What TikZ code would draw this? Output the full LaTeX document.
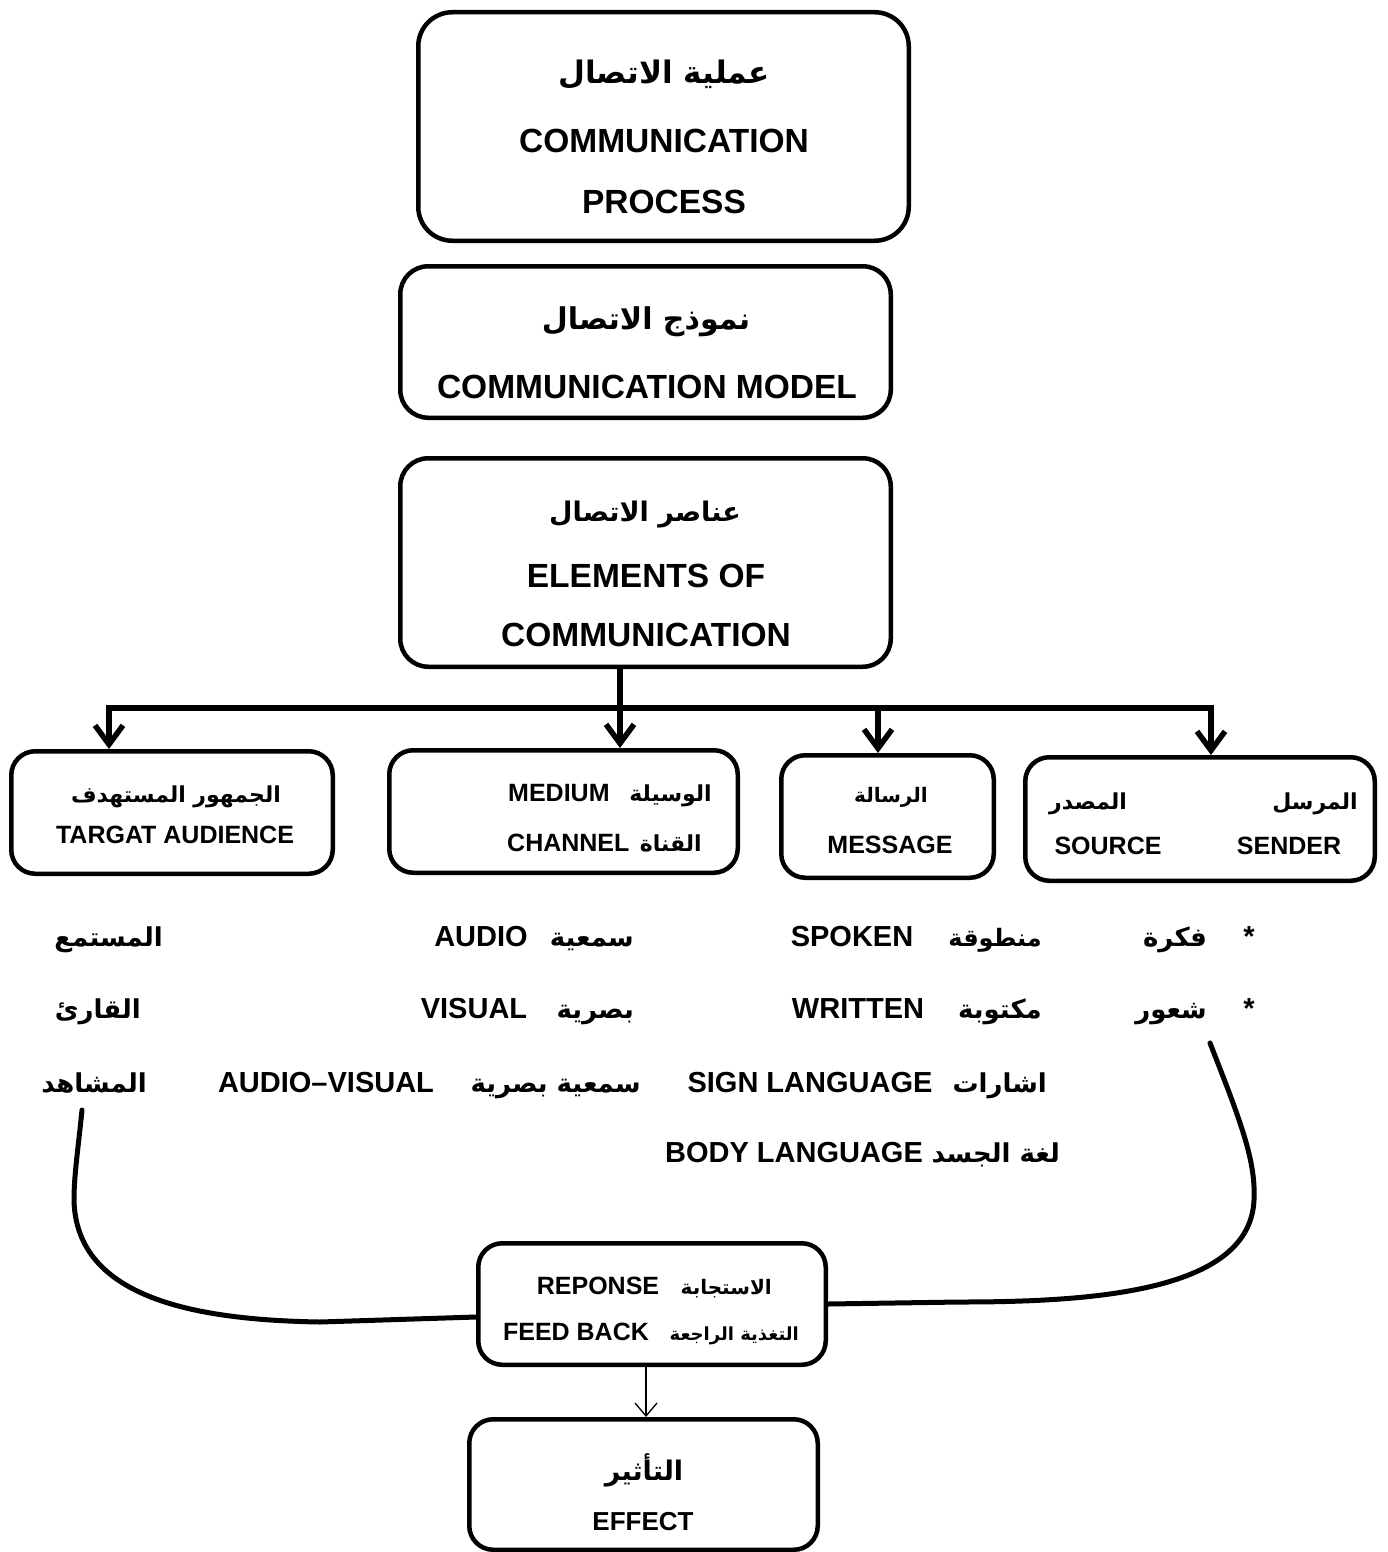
\documentclass[tikz,border=0pt]{standalone}
\usepackage{fontspec}
\setmainfont{Liberation Sans}
\newfontfamily\arabicfont[Script=Arabic]{DejaVu Sans}
\TeXXeTstate=1
\usetikzlibrary{arrows.meta}
\newcommand\artxt[1]{{\arabicfont\beginR #1\endR}}
\begin{document}
\begin{tikzpicture}[x=1pt,y=-1pt,
  box/.style={draw, line width=4.5pt, inner sep=0pt, outer sep=2.25pt},
  ta/.style={inner sep=0pt, font=\fontsize{33.5}{40}\selectfont\bfseries},
  tb/.style={inner sep=0pt, font=\fontsize{25}{30}\selectfont\bfseries},
  tc/.style={inner sep=0pt, anchor=base, font=\fontsize{29}{34}\selectfont\bfseries},
  aa/.style={inner sep=0pt, font=\fontsize{31}{36}\selectfont\bfseries},
  ab/.style={inner sep=0pt, font=\fontsize{22}{28}\selectfont\bfseries},
  af/.style={inner sep=0pt, font=\fontsize{20}{26}\selectfont\bfseries},
  ac/.style={inner sep=0pt, anchor=base east, font=\fontsize{26}{32}\selectfont\bfseries},
  thick line/.style={line width=5.5pt},
  conn/.style={line width=5pt, line cap=round},
  bigtip/.style={-{Straight Barb[length=19pt,width=28pt]}},
  thintip/.style={line width=1.3pt, -{Straight Barb[length=13pt,width=22pt]}}
]
\path[use as bounding box, fill=white] (0,0) rectangle (1387,1552);

% boxes
\node[box, rounded corners=34pt, minimum width=490.5pt, minimum height=228.5pt] (B1) at (663.5,126.5) {};
\node[box, rounded corners=28pt, minimum width=490.5pt, minimum height=151.5pt] (B2) at (645.5,342) {};
\node[box, rounded corners=28pt, minimum width=490.5pt, minimum height=208.5pt] (B3) at (645.5,562.5) {};
\node[box, rounded corners=24pt, minimum width=321.5pt, minimum height=122.5pt] (T) at (172,812.5) {};
\node[box, rounded corners=24pt, minimum width=348.5pt, minimum height=122.5pt] (M) at (563.5,811.5) {};
\node[box, rounded corners=24pt, minimum width=212.5pt, minimum height=122.5pt] (G) at (887.5,816.5) {};
\node[box, rounded corners=24pt, minimum width=349.5pt, minimum height=123.5pt] (S) at (1200,819) {};
\node[box, rounded corners=24pt, minimum width=347.5pt, minimum height=121.5pt] (FB) at (652,1304) {};
\node[box, rounded corners=24pt, minimum width=348.5pt, minimum height=130.5pt] (E) at (643.5,1484.5) {};

% box texts
\node[aa] (b1a) at (664,75) {\artxt{عملية الاتصال}};
\node[ta] (b1b) at (664,141) {COMMUNICATION};
\node[ta] (b1c) at (664,202) {PROCESS};

\node[aa, font=\fontsize{30}{36}\selectfont\bfseries] (b2a) at (646,322) {\artxt{نموذج الاتصال}};
\node[ta] (b2b) at (647,387) {COMMUNICATION MODEL};

\node[aa, font=\fontsize{27}{32}\selectfont\bfseries] (b3a) at (645,515) {\artxt{عناصر الاتصال}};
\node[ta] (b3b) at (646,576) {ELEMENTS OF};
\node[ta] (b3c) at (646,635) {COMMUNICATION};

\node[ab] (ta1) at (176,797) {\artxt{الجمهور المستهدف}};
\node[tb] (ta2) at (175,835) {TARGAT AUDIENCE};

\node[tb, anchor=base west] (me1) at (508,801) {MEDIUM};
\node[ab, anchor=base east] (me2) at (712,801) {\artxt{الوسيلة}};
\node[tb, anchor=base west] (me3) at (507,851) {CHANNEL};
\node[ab, anchor=base east] (me4) at (702,851) {\artxt{القناة}};

\node[af] (ms1) at (891,797) {\artxt{الرسالة}};
\node[tb] (ms2) at (890,845) {MESSAGE};

\node[ab] (sd1) at (1088,804) {\artxt{المصدر}};
\node[ab] (sd2) at (1315,804) {\artxt{المرسل}};
\node[tb] (sd3) at (1108,846) {SOURCE};
\node[tb] (sd4) at (1289,846) {SENDER};

% lower rows
\node[ac] (r1a) at (163,946) {\artxt{المستمع}};
\node[tc] (r1b) at (481,946) {AUDIO};
\node[ac] (r1c) at (634,946) {\artxt{سمعية}};
\node[tc] (r1d) at (852,946) {SPOKEN};
\node[ac, font=\fontsize{24}{30}\selectfont\bfseries] (r1e) at (1042,946) {\artxt{منطوقة}};
\node[ac] (r1f) at (1207,946) {\artxt{فكرة}};
\node[tc] (r1g) at (1249,946) {*};

\node[ac] (r2a) at (141,1018) {\artxt{القارئ}};
\node[tc] (r2b) at (474,1018) {VISUAL};
\node[ac] (r2c) at (634,1018) {\artxt{بصرية}};
\node[tc] (r2d) at (858,1018) {WRITTEN};
\node[ac] (r2e) at (1042,1018) {\artxt{مكتوبة}};
\node[ac] (r2f) at (1207,1018) {\artxt{شعور}};
\node[tc] (r2g) at (1249,1018) {*};

\node[ac] (r3a) at (147,1092) {\artxt{المشاهد}};
\node[tc] (r3b) at (326,1092) {AUDIO–VISUAL};
\node[ac] (r3c) at (641,1092) {\artxt{سمعية بصرية}};
\node[tc] (r3d) at (810,1092) {SIGN LANGUAGE};
\node[ac] (r3e) at (1047,1092) {\artxt{اشارات}};

\node[tc] (r4a) at (794,1162) {BODY LANGUAGE};
\node[ac] (r4b) at (1060,1162) {\artxt{لغة الجسد}};

% feedback and effect texts
\node[tb, anchor=base] (fb1) at (598,1294) {REPONSE};
\node[af, anchor=base east] (fb2) at (772,1294) {\artxt{الاستجابة}};
\node[tb, anchor=base] (fb3) at (576,1340) {FEED BACK};
\node[af, anchor=base east, font=\fontsize{18}{24}\selectfont\bfseries] (fb4) at (799,1340) {\artxt{التغذية الراجعة}};

\node[aa, font=\fontsize{27}{32}\selectfont\bfseries] (ef1) at (644,1470) {\artxt{التأثير}};
\node[tb, font=\fontsize{26}{30}\selectfont\bfseries] (ef2) at (643,1522) {EFFECT};

% tree connectors
\coordinate (jl) at (109,708);
\coordinate (jn) at (620,708);
\coordinate (jm) at (878,708);
\coordinate (jr) at (1211,708);
\draw[thick line] (B3.south -| jn) -- (jn);
\draw[thick line, {Straight Barb[length=19pt,width=28pt]}-{Straight Barb[length=19pt,width=28pt]}] (jl |- T.north) -- (jl) -- (jr) -- (jr |- S.north);
\draw[thick line, bigtip] (jn) -- (jn |- M.north);
\draw[thick line, bigtip] (jm) -- (jm |- G.north);

% feedback curves
\coordinate (lc) at (82,1110);
\coordinate (rc) at (1210,1043);
\draw[conn] (lc) .. controls (78,1150) and (74,1175) .. (74,1200) .. controls (76,1300) and (200,1320) .. (320,1322) -- ([yshift=-13pt]FB.west);
\draw[conn] (rc) .. controls (1240,1120) and (1256,1160) .. (1254,1200) .. controls (1250,1290) and (1100,1302) .. (960,1302) -- (FB.east);

% feedback to effect
\coordinate (fx) at (646,1304);
\draw[thintip] (fx |- FB.south) -- (fx |- E.north);
\end{tikzpicture}
\end{document}
